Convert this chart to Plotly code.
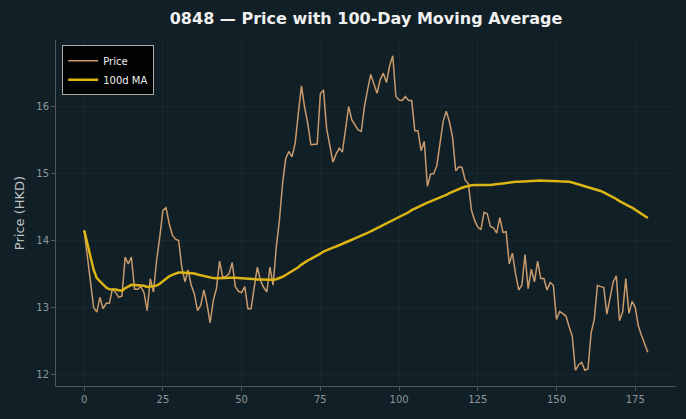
import numpy as np
import pandas as pd
import plotly.graph_objects as go

days = list(range(180))
price = [
    14.15, 13.77, 13.33, 13.00, 12.93, 13.15, 12.98, 13.06, 13.06, 13.28,
    13.22, 13.15, 13.17, 13.75, 13.65, 13.75, 13.27, 13.27, 13.31, 13.22,
    12.95, 13.43, 13.23, 13.70, 14.05, 14.45, 14.49, 14.25, 14.08, 14.02,
    14.00, 13.60, 13.38, 13.56, 13.33, 13.20, 12.95, 13.03, 13.26, 13.05,
    12.77, 13.10, 13.28, 13.69, 13.45, 13.46, 13.50, 13.67, 13.31, 13.24,
    13.22, 13.31, 12.98, 12.98, 13.30, 13.60, 13.40, 13.30, 13.23, 13.60,
    13.33, 13.90, 14.30, 14.85, 15.22, 15.33, 15.25, 15.45, 15.89, 16.31,
    15.99, 15.75, 15.43, 15.43, 15.44, 16.19, 16.25, 15.67, 15.39, 15.17,
    15.29, 15.38, 15.32, 15.67, 16.00, 15.80, 15.72, 15.65, 15.63, 16.00,
    16.25, 16.48, 16.34, 16.20, 16.40, 16.50, 16.36, 16.61, 16.76, 16.15,
    16.10, 16.09, 16.15, 16.09, 16.09, 15.64, 15.64, 15.34, 15.48, 14.81,
    14.99, 15.00, 15.12, 15.45, 15.78, 15.93, 15.77, 15.54, 15.04, 15.10,
    15.09, 14.90, 14.85, 14.45, 14.30, 14.20, 14.16, 14.42, 14.40, 14.21,
    14.19, 14.11, 14.34, 14.12, 14.13, 13.65, 13.81, 13.50, 13.26, 13.33,
    13.79, 13.28, 13.57, 13.38, 13.69, 13.43, 13.43, 13.26, 13.37, 13.33,
    12.82, 12.94, 12.91, 12.87, 12.71, 12.57, 12.06, 12.14, 12.18, 12.06,
    12.08, 12.62, 12.82, 13.33, 13.31, 13.30, 12.90, 13.15, 13.38, 13.47,
    12.80, 12.93, 13.43, 12.91, 13.09, 13.00, 12.72, 12.58, 12.46, 12.33,
]
ma_window = 100
ma = pd.Series(price).rolling(ma_window, min_periods=1).mean().tolist()

x_ticks = [0, 25, 50, 75, 100, 125, 150, 175]
y_ticks = [12, 13, 14, 15, 16]

BG = "#111f26"
GRID = "rgba(255,255,255,0.035)"
AXIS = "#4f585d"
TICKTXT = "#8f979b"
FONT = "DejaVu Sans"

fig = go.Figure()
fig.add_trace(go.Scatter(x=days, y=price, mode="lines", name="Price",
                         line=dict(color="#c99a6c", width=1.5)))
fig.add_trace(go.Scatter(x=days, y=ma, mode="lines", name="100d MA",
                         line=dict(color="#dcb515", width=2.5)))

n = len(days)
xpad = (n - 1) * 0.05
ymin, ymax = min(price + ma), max(price + ma)
ypad = (ymax - ymin) * 0.05

fig.update_layout(
    width=686, height=419,
    paper_bgcolor=BG, plot_bgcolor=BG,
    margin=dict(l=56, r=10, t=40, b=33),
    font=dict(family=FONT, color=TICKTXT, size=11),
    title=dict(text="<b>0848 — Price with 100-Day Moving Average</b>",
               x=0.5, xref="paper", xanchor="center", y=0.957, yanchor="middle",
               font=dict(family=FONT, size=16, color="#f0f0f0")),
    showlegend=True,
    legend=dict(x=0.01, y=0.985, xanchor="left", yanchor="top",
                bgcolor="rgba(0,0,0,0.9)", bordercolor="#aaaaaa", borderwidth=1,
                font=dict(family=FONT, size=10, color="#eeeeee"),
                itemwidth=30, tracegroupgap=0),
    xaxis=dict(range=[-xpad, (n - 1) + xpad], tickvals=x_ticks,
               showgrid=True, gridcolor=GRID, gridwidth=1, zeroline=False,
               showline=True, linecolor=AXIS, linewidth=1,
               ticks="outside", ticklen=4, tickcolor=AXIS,
               tickfont=dict(family=FONT, size=10, color=TICKTXT)),
    yaxis=dict(range=[ymin - ypad, ymax + ypad], tickvals=y_ticks,
               showgrid=True, gridcolor=GRID, gridwidth=1, zeroline=False,
               showline=True, linecolor=AXIS, linewidth=1,
               ticks="outside", ticklen=4, tickcolor=AXIS,
               tickfont=dict(family=FONT, size=10, color=TICKTXT),
               title=dict(text="Price (HKD)", standoff=8,
                          font=dict(family=FONT, size=13, color="#c0c4c6"))),
)

fig.write_html("out.html")
